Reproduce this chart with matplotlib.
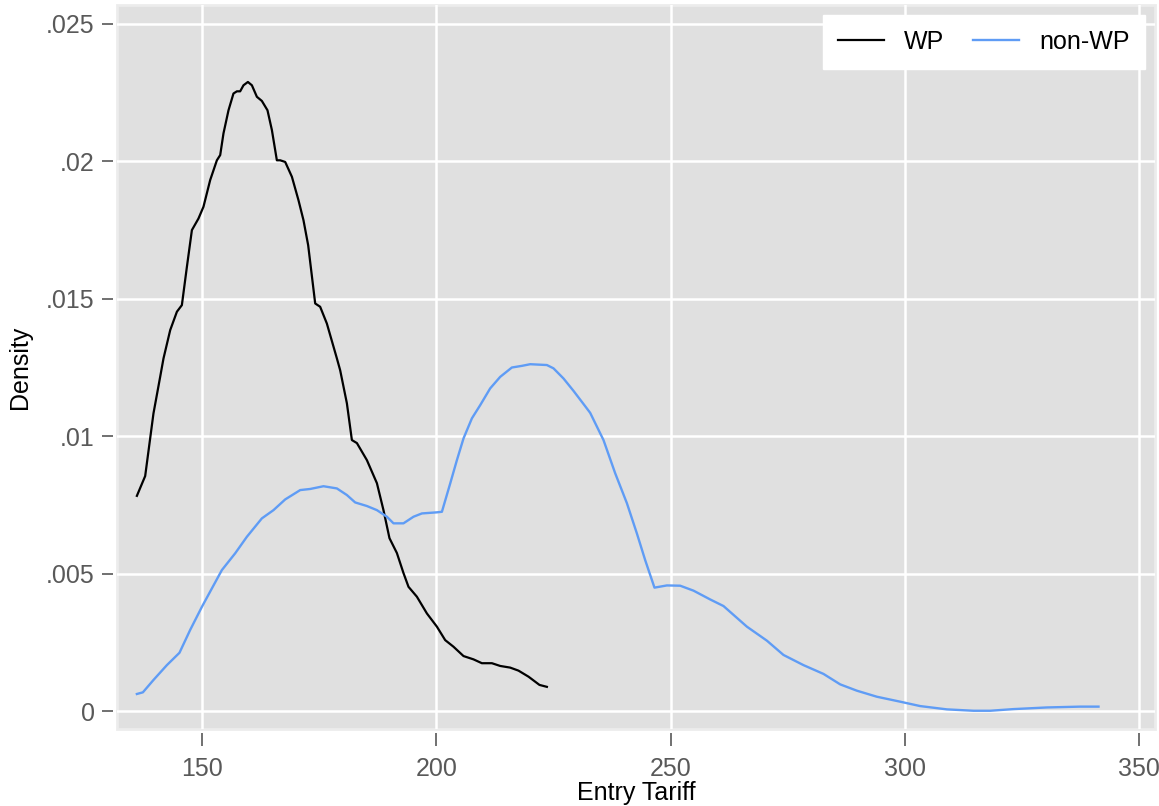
import matplotlib
matplotlib.use("Agg")
import matplotlib.pyplot as plt
from matplotlib.patches import Rectangle

plt.rcParams['font.family'] = ['Liberation Sans', 'DejaVu Sans']

# Kernel density estimates of entry tariff, by group
wp_x = [136.13, 137.90, 139.67, 141.10, 141.81, 143.24, 144.67, 145.73, 146.80, 147.87,
        149.27, 150.34, 151.77, 153.20, 153.91, 154.61, 155.68, 156.74, 157.47, 158.17,
        158.88, 159.82, 160.67, 161.74, 162.80, 164.00, 164.94, 166.00, 166.71, 167.78,
        169.21, 170.61, 171.68, 172.68, 174.18, 175.24, 176.67, 178.81, 179.51, 180.94,
        182.01, 183.08, 185.21, 187.35, 188.75, 190.03, 191.61, 193.02, 194.09, 195.88,
        198.02, 200.15, 201.92, 203.69, 205.83, 207.96, 209.75, 211.89, 213.66, 215.79,
        217.56, 219.70, 222.04, 223.62]
wp_density = [7.83, 8.55, 10.83, 12.16, 12.83, 13.86, 14.53, 14.77, 16.16, 17.50,
              17.92, 18.35, 19.32, 20.04, 20.23, 21.02, 21.86, 22.47, 22.55, 22.55,
              22.77, 22.89, 22.77, 22.35, 22.20, 21.86, 21.14, 20.04, 20.04, 19.98,
              19.44, 18.59, 17.86, 16.95, 14.83, 14.71, 14.10, 12.83, 12.40, 11.20,
              9.86, 9.75, 9.13, 8.29, 7.31, 6.29, 5.75, 5.02, 4.52, 4.16,
              3.55, 3.07, 2.58, 2.34, 2.00, 1.88, 1.74, 1.74, 1.64, 1.58,
              1.47, 1.25, 0.95, 0.88]

nonwp_x = [136.13, 137.41, 139.67, 142.53, 145.22, 147.50, 150.00, 152.13, 154.27, 157.11,
           159.60, 162.80, 165.28, 167.78, 170.98, 173.11, 175.95, 178.81, 180.94, 182.71,
           185.21, 187.35, 189.48, 190.89, 193.02, 195.16, 196.95, 200.15, 201.22, 202.99,
           204.42, 205.83, 207.62, 209.39, 211.52, 213.66, 216.15, 218.29, 220.06, 223.62,
           225.03, 227.17, 229.30, 231.80, 232.86, 235.70, 238.20, 240.70, 242.83, 244.60,
           246.58, 249.23, 252.07, 254.91, 258.47, 261.31, 266.30, 270.57, 274.11, 278.38,
           282.65, 286.21, 289.77, 294.04, 299.01, 303.28, 308.98, 314.66, 318.22, 323.19,
           330.32, 337.43, 341.33]
nonwp_density = [0.62, 0.68, 1.13, 1.67, 2.12, 2.95, 3.79, 4.46, 5.13, 5.74,
                 6.34, 7.01, 7.31, 7.70, 8.04, 8.08, 8.18, 8.10, 7.86, 7.59,
                 7.46, 7.31, 7.07, 6.83, 6.83, 7.07, 7.19, 7.23, 7.25, 8.28,
                 9.13, 9.92, 10.65, 11.13, 11.74, 12.16, 12.50, 12.56, 12.62, 12.59,
                 12.47, 12.10, 11.65, 11.09, 10.85, 9.86, 8.65, 7.56, 6.46, 5.49,
                 4.49, 4.57, 4.56, 4.38, 4.06, 3.82, 3.07, 2.56, 2.04, 1.67,
                 1.35, 0.97, 0.74, 0.52, 0.34, 0.18, 0.06, 0.01, 0.01, 0.07,
                 0.13, 0.16, 0.16]

x_ticks = [150, 200, 250, 300, 350]
y_ticks = [0, 0.005, 0.01, 0.015, 0.02, 0.025]
y_tick_labels = ["0", ".005", ".01", ".015", ".02", ".025"]

fig = plt.figure(figsize=(11.59, 8.06), dpi=100)
fig.patch.set_facecolor("white")
ax = fig.add_axes([0.1010, 0.0955, 0.8956, 0.8983])
ax.set_facecolor("#e0e0e0")

ax.plot(wp_x, [v / 1000 for v in wp_density], color="black", lw=1.6, label="WP")
ax.plot(nonwp_x, [v / 1000 for v in nonwp_density], color="#5f9cf5", lw=1.7, label="non-WP")

ax.set_xlim(131.9, 353.4)
ax.set_ylim(-0.000655, 0.025691)

ax.set_xticks(x_ticks)
ax.set_yticks(y_ticks)
ax.set_yticklabels(y_tick_labels)
ax.grid(True, color="white", lw=1.8)
ax.set_axisbelow(True)

for side in ["top", "right"]:
    ax.spines[side].set_visible(False)
for side in ["left", "bottom"]:
    ax.spines[side].set_position(("outward", 3))
    ax.spines[side].set_visible(False)

ax.tick_params(axis="both", direction="out", color="#707070", width=1.4,
               labelcolor="#595959", labelsize=18)
ax.tick_params(axis="x", length=9, pad=8)
ax.tick_params(axis="y", length=8, pad=5)

# thin light frame around the plot region
ax.add_patch(Rectangle((0, 0), 1, 1, transform=ax.transAxes, fill=False,
                       edgecolor="#ececec", lw=2, zorder=0.5, clip_on=False))

ax.set_xlabel("Entry Tariff", fontsize=18, color="black", labelpad=0)
ax.set_ylabel("Density", fontsize=18, color="black", labelpad=10)

leg = ax.legend(loc="upper right", bbox_to_anchor=(0.990, 0.986), ncol=2,
                fontsize=18, frameon=True, fancybox=False, borderaxespad=0,
                handlelength=1.85, columnspacing=1.15, handletextpad=0.8,
                borderpad=0.6)
leg.get_frame().set_facecolor("white")
leg.get_frame().set_edgecolor("white")
leg.get_frame().set_alpha(1)

fig.savefig("out.png", dpi=100)
